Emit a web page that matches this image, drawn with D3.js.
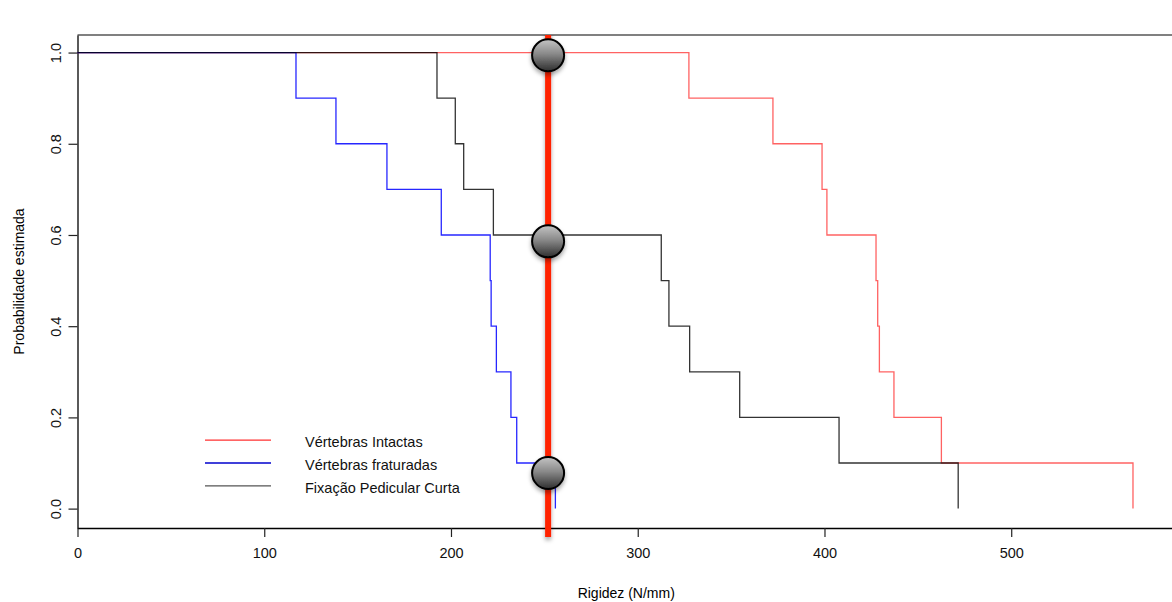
<!DOCTYPE html>
<html>
<head>
<meta charset="utf-8">
<script src="https://cdn.jsdelivr.net/npm/d3@7"></script>
<style>
  body { margin: 0; background: #fff; }
  text { font-family: "Liberation Sans", Arial, sans-serif; }
</style>
</head>
<body>
<div id="chart"></div>
<script>
// survival levels after each failure (step heights)
var levels = [1.0, 0.9, 0.8, 0.7, 0.6, 0.5, 0.4, 0.3, 0.2, 0.1, 0.0];

// rigidity at which each step down happens (N/mm)
var intactas = [327.4, 372.4, 398.7, 401.3, 427.6, 428.5, 429.4, 437.2, 462.6, 565.2];
var fraturadas = [117.0, 138.4, 165.7, 194.8, 221.0, 221.5, 224.3, 232.1, 235.2, 255.9];
var fixacao = [192.5, 202.3, 206.8, 222.7, 312.6, 316.7, 327.8, 354.6, 407.8, 471.6];

var seriesNames = ["Vértebras Intactas", "Vértebras fraturadas", "Fixação Pedicular Curta"];
var legendLevels = [0.15, 0.10, 0.05];

var xTicks = [0, 100, 200, 300, 400, 500];
var yTicks = [0.0, 0.2, 0.4, 0.6, 0.8, 1.0];

// vertical marker and the points where it crosses the curves
var markerX = 252;
var markerY = [0.994, 0.586, 0.078];

var W = 1172, H = 602;
var margin = {top: 35, right: -3, bottom: 74, left: 77.5};
var width = W - margin.left - margin.right;
var height = H - margin.top - margin.bottom;

var svg = d3.select("#chart").append("svg")
    .attr("width", W)
    .attr("height", H);

var defs = svg.append("defs");
var shadow = defs.append("filter").attr("id", "shadow")
    .attr("filterUnits", "userSpaceOnUse")
    .attr("x", 0).attr("y", 0).attr("width", W).attr("height", H);
shadow.append("feDropShadow")
    .attr("dx", 0).attr("dy", 3).attr("stdDeviation", 2)
    .attr("flood-color", "#000").attr("flood-opacity", 0.35);

var grad = defs.append("linearGradient").attr("id", "ball")
    .attr("x1", 0).attr("y1", 0).attr("x2", 0).attr("y2", 1);
grad.append("stop").attr("offset", "0%").attr("stop-color", "#c4c4c4");
grad.append("stop").attr("offset", "45%").attr("stop-color", "#8a8a8a");
grad.append("stop").attr("offset", "100%").attr("stop-color", "#2e2e2e");

var g = svg.append("g")
    .attr("transform", "translate(" + margin.left + "," + margin.top + ")");

var x = d3.scaleLinear()
    .domain([0, 587.7])
    .range([0, width]);

var y = d3.scaleLinear()
    .domain([-0.0425, 1.0385])
    .range([height, 0]);

// box: grey top, black left and bottom
g.append("line")
    .attr("x1", 0).attr("x2", width)
    .attr("y1", 0).attr("y2", 0)
    .attr("stroke", "#808080")
    .attr("stroke-width", 2);

var xAxis = g.append("g")
    .attr("transform", "translate(0," + height + ")")
    .call(d3.axisBottom(x).tickValues(xTicks).tickFormat(d3.format("d")).tickSize(9).tickSizeOuter(0));
xAxis.select(".domain").attr("stroke", "#000").attr("stroke-width", 1.3);
xAxis.selectAll(".tick line").attr("stroke", "#222").attr("stroke-width", 1.2);
xAxis.selectAll(".tick text")
    .attr("y", 20)
    .attr("dy", "0.71em")
    .style("font-size", "14.5px")
    .attr("fill", "#111");

var yAxis = g.append("g")
    .call(d3.axisLeft(y).tickValues(yTicks).tickFormat(d3.format(".1f")).tickSize(9).tickSizeOuter(0));
yAxis.select(".domain").attr("stroke", "#000").attr("stroke-width", 1.3);
yAxis.selectAll(".tick line").attr("stroke", "#222").attr("stroke-width", 1.2);
yAxis.selectAll(".tick text")
    .attr("x", null).attr("dy", null)
    .attr("text-anchor", "middle")
    .attr("transform", "translate(-17,0) rotate(-90)")
    .style("font-size", "14.5px")
    .attr("fill", "#111");

// axis titles
g.append("text")
    .attr("x", width / 2)
    .attr("y", height + 70)
    .attr("text-anchor", "middle")
    .style("font-size", "14px")
    .text("Rigidez (N/mm)");

g.append("text")
    .attr("transform", "translate(" + (-54) + "," + (height / 2) + ") rotate(-90)")
    .attr("text-anchor", "middle")
    .style("font-size", "14px")
    .text("Probabilidade estimada");

// step curves
var stepLine = d3.line()
    .x(d => x(d[0]))
    .y(d => y(d[1]))
    .curve(d3.curveStepAfter);

function steps(times) {
    var pts = [[0, levels[0]]];
    times.forEach((t, i) => pts.push([t, levels[i + 1]]));
    return pts;
}

// red first, black last so the shared 1.0 stretch looks dark
var curves = [
    {name: seriesNames[0], times: intactas, color: "#ff2020", op: 0.7},
    {name: seriesNames[1], times: fraturadas, color: "#0000ff", op: 0.85},
    {name: seriesNames[2], times: fixacao, color: "#000000", op: 0.8}
];

g.selectAll(".curve")
    .data(curves)
    .join("path")
    .attr("class", "curve")
    .attr("fill", "none")
    .attr("stroke", d => d.color)
    .attr("stroke-opacity", d => d.op)
    .attr("stroke-width", 1.3)
    .attr("d", d => stepLine(steps(d.times)));

// legend
var legendColors = ["#ff3030", "#0000cc", "#555555"];
var legend = g.append("g");
legend.selectAll("line")
    .data(seriesNames)
    .join("line")
    .attr("x1", 205 - margin.left)
    .attr("x2", 271 - margin.left)
    .attr("y1", (d, i) => y(legendLevels[i]))
    .attr("y2", (d, i) => y(legendLevels[i]))
    .attr("stroke", (d, i) => legendColors[i])
    .attr("stroke-width", 1.3);
legend.selectAll("text")
    .data(seriesNames)
    .join("text")
    .attr("x", 305 - margin.left)
    .attr("y", (d, i) => y(legendLevels[i]) + 7)
    .style("font-size", "14.5px")
    .attr("fill", "#111")
    .text(d => d);

// red marker line (a thin rect so the shadow filter has an area)
g.append("rect")
    .attr("x", x(markerX) - 3)
    .attr("y", 8 - margin.top)
    .attr("width", 6)
    .attr("height", height + 9 - (8 - margin.top))
    .attr("fill", "#ff2200")
    .attr("filter", "url(#shadow)");

g.selectAll(".ball")
    .data(markerY)
    .join("circle")
    .attr("class", "ball")
    .attr("cx", x(markerX))
    .attr("cy", d => y(d))
    .attr("r", 16)
    .attr("fill", "url(#ball)")
    .attr("stroke", "#000")
    .attr("stroke-width", 2)
    .attr("filter", "url(#shadow)");
</script>
</body>
</html>
